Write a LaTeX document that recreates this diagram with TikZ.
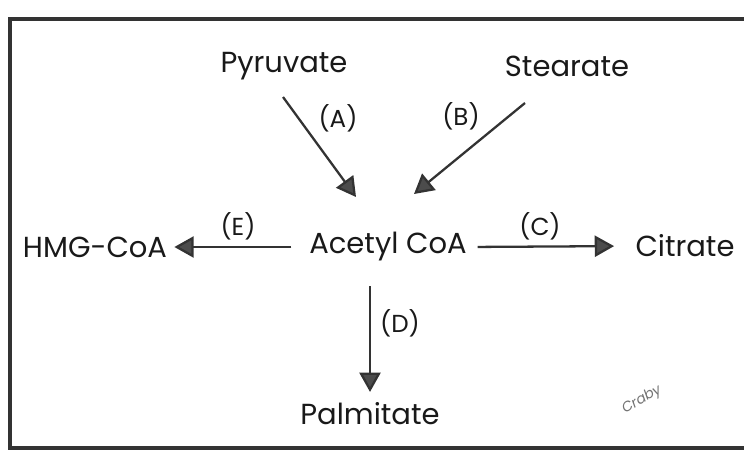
\documentclass[tikz,border=0pt]{standalone}
\usepackage{fontspec}
\setmainfont{Poppins}
\usetikzlibrary{arrows.meta}

\tikzset{
  metab/.style={inner sep=0pt, text=black!90, font=\fontsize{16.5}{19}\selectfont},
  enz/.style={inner sep=0pt, text=black!90, font=\fontsize{14}{16}\selectfont},
  flow/.style={line width=1.3pt, draw=black!80,
    -{Triangle[length=11pt,width=12pt,fill=black!70]}},
}

\begin{document}
\begin{tikzpicture}[x=0.02cm,y=-0.02cm]
  \clip (0,0) rectangle (744,453);

  % frame
  \draw[line width=2pt, black!80] (760,19) -- (10,19) -- (10,448) -- (760,448);

  % metabolites
  \node[metab] (pyr) at (284,66) {Pyruvate};
  \node[metab] (ste) at (567,66) {Stearate};
  \node[metab] (acoa) at (388,247) {Acetyl CoA};
  \node[metab] (hmg) at (95,247) {HMG-CoA};
  \node[metab] (cit) at (685,246) {Citrate};
  \node[metab] (pal) at (370,414) {Palmitate};

  % free ends of the slanted arrows
  \coordinate (a-start) at (283,97);
  \coordinate (a-end) at (356,197);
  \coordinate (b-start) at (525,103);
  \coordinate (b-end) at (414,194);

  \draw[flow] (a-start) -- (a-end);
  \draw[flow] (b-start) -- (b-end);
  \draw[flow, shorten <=10pt, shorten >=4pt] (acoa.west) -- (hmg.east);
  \draw[flow, shorten <=6pt, shorten >=12pt] (acoa.east) -- (cit.west);
  \draw[flow, shorten <=14pt, shorten >=6pt] (acoa.south -| pal) -- (pal.north);

  % enzyme labels
  \node[enz] (lab-a) at (338,118) {(A)};
  \node[enz] (lab-b) at (461,116) {(B)};
  \node[enz] (lab-e) at (238,226) {(E)};
  \node[enz] (lab-c) at (540,226) {(C)};
  \node[enz] (lab-d) at (400,323) {(D)};

  % signature
  \node[text=black!55, rotate=30, inner sep=0pt, font=\itshape\fontsize{8}{9}\selectfont] (sig) at (642,400) {Craby};
\end{tikzpicture}
\end{document}
